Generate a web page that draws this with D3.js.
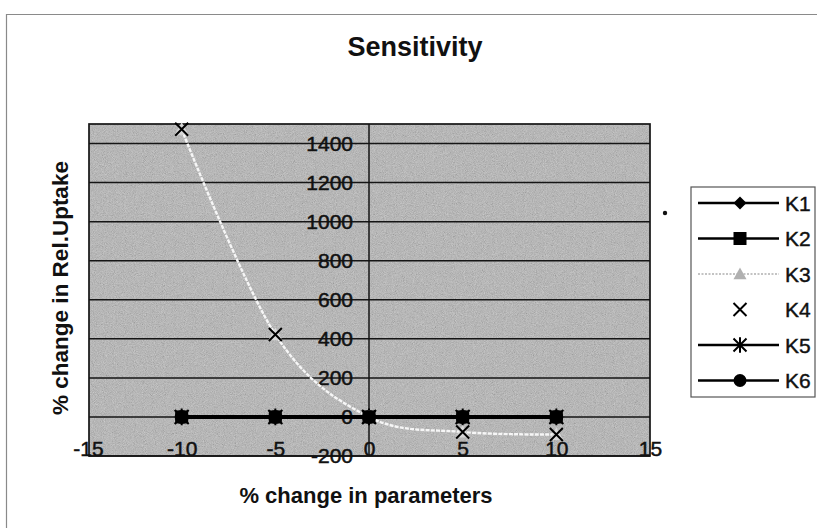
<!DOCTYPE html>
<html>
<head>
<meta charset="utf-8">
<script src="https://cdn.jsdelivr.net/npm/d3@7"></script>
<style>
  html, body { margin: 0; padding: 0; background: #fff; }
  svg { display: block; font-family: Arial, "Liberation Sans", sans-serif; }
</style>
</head>
<body>
<svg id="chart" width="817" height="528"></svg>
<script>
// Percent change applied to each parameter
const paramChange = [-10, -5, 0, 5, 10];

// Resulting % change in relative uptake, one array per parameter
const k1 = [0, 0, 0, 0, 0];
const k2 = [0, 0, 0, 0, 0];
const k3 = [1473, 422, 0, -77, -90];
const k4 = [1473, 422, 0, -77, -90];
const k5 = [0, 0, 0, 0, 0];
const k6 = [0, 0, 0, 0, 0];

const seriesNames = ["K1", "K2", "K3", "K4", "K5", "K6"];
const xTicks = [-15, -10, -5, 0, 5, 10, 15];
const yTicks = [-200, 0, 200, 400, 600, 800, 1000, 1200, 1400];

const svg = d3.select("#chart");
const FONT = "Arial, 'Liberation Sans', sans-serif";
const fmt = d => (d < 0 ? "-" : "") + Math.abs(d);

const plot = { left: 89, right: 650, top: 124, bottom: 456 };
const x = d3.scaleLinear().domain([-15, 15]).range([88, 650]);
const y = d3.scaleLinear().domain([-200, 1500]).range([plot.bottom, plot.top]);

// Grainy grey plot backdrop
const defs = svg.append("defs");
const grain = defs.append("filter").attr("id", "grain")
  .attr("x", 0).attr("y", 0).attr("width", "100%").attr("height", "100%");
grain.append("feTurbulence").attr("type", "fractalNoise")
  .attr("baseFrequency", 1.1).attr("numOctaves", 2).attr("seed", 7).attr("result", "n");
grain.append("feColorMatrix").attr("in", "n").attr("type", "matrix")
  .attr("values", "0.33 0.33 0.33 0 0  0.33 0.33 0.33 0 0  0.33 0.33 0.33 0 0  0 0 0 0 1");
defs.append("clipPath").attr("id", "plotClip").append("rect")
  .attr("x", plot.left).attr("y", plot.top)
  .attr("width", plot.right - plot.left).attr("height", plot.bottom - plot.top);

// Outer chart frame
svg.append("path").attr("d", "M6.5,528 V14.5 H817")
  .attr("fill", "none").attr("stroke", "#8a8a8a").attr("stroke-width", 1.2);

svg.append("rect")
  .attr("x", plot.left).attr("y", plot.top)
  .attr("width", plot.right - plot.left).attr("height", plot.bottom - plot.top)
  .attr("fill", "#b2b2b2");
svg.append("rect")
  .attr("x", plot.left).attr("y", plot.top)
  .attr("width", plot.right - plot.left).attr("height", plot.bottom - plot.top)
  .attr("filter", "url(#grain)").attr("opacity", 0.55);

// Horizontal gridlines
svg.append("g").selectAll("line").data(yTicks).join("line")
  .attr("x1", plot.left).attr("x2", plot.right)
  .attr("y1", d => y(d)).attr("y2", d => y(d))
  .attr("stroke", "#151515").attr("stroke-width", 1.5);

// Vertical value axis at x = 0
svg.append("line")
  .attr("x1", x(0)).attr("x2", x(0)).attr("y1", plot.top).attr("y2", plot.bottom)
  .attr("stroke", "#151515").attr("stroke-width", 1.5);

// Plot border
svg.append("rect")
  .attr("x", plot.left).attr("y", plot.top)
  .attr("width", plot.right - plot.left).attr("height", plot.bottom - plot.top)
  .attr("fill", "none").attr("stroke", "#151515").attr("stroke-width", 1.7);

// Y tick labels, placed beside the value axis
const yAxis = d3.axisLeft(y).tickValues(yTicks).tickSize(0).tickPadding(16).tickFormat(fmt);
const gy = svg.append("g").attr("transform", `translate(${x(0)},0)`).call(yAxis);
gy.select(".domain").remove();
gy.attr("font-size", null).attr("font-family", null);
gy.selectAll("text").style("font-size", "21px").style("font-family", FONT)
  .attr("fill", "#111").attr("stroke", "#111").attr("stroke-width", 0.5);

// X tick labels along the bottom edge
const xAxis = d3.axisBottom(x).tickValues(xTicks).tickSize(0).tickPadding(0).tickFormat(fmt);
const gx = svg.append("g").attr("transform", `translate(0,${plot.bottom - 15})`).call(xAxis);
gx.select(".domain").remove();
gx.attr("font-size", null).attr("font-family", null);
gx.selectAll("text").style("font-size", "21px").style("font-family", FONT)
  .attr("fill", "#111").attr("stroke", "#111").attr("stroke-width", 0.5);

// Series data
const allSeries = [
  { name: "K1", values: k1, line: true,  color: "#000", marker: "diamond" },
  { name: "K2", values: k2, line: true,  color: "#000", marker: "square" },
  { name: "K3", values: k3, line: true,  color: "#f6f6f6", legendColor: "#b0b0b0", marker: "triangle", dashed: true, smooth: true },
  { name: "K4", values: k4, line: false, color: "#000", marker: "cross" },
  { name: "K5", values: k5, line: true,  color: "#000", marker: "asterisk" },
  { name: "K6", values: k6, line: true,  color: "#000", marker: "circle" }
];

function drawMarker(g, type, cx, cy, color, s) {
  if (type === "diamond") {
    g.append("path").attr("d", `M${cx},${cy - s} L${cx + s},${cy} L${cx},${cy + s} L${cx - s},${cy} Z`).attr("fill", color);
  } else if (type === "square") {
    g.append("rect").attr("x", cx - s).attr("y", cy - s).attr("width", 2 * s).attr("height", 2 * s).attr("fill", color);
  } else if (type === "triangle") {
    g.append("path").attr("d", `M${cx},${cy - s} L${cx + s},${cy + s * 0.8} L${cx - s},${cy + s * 0.8} Z`).attr("fill", color);
  } else if (type === "cross") {
    g.append("path").attr("d", `M${cx - s},${cy - s} L${cx + s},${cy + s} M${cx - s},${cy + s} L${cx + s},${cy - s}`)
      .attr("stroke", color).attr("stroke-width", 2).attr("fill", "none");
  } else if (type === "asterisk") {
    g.append("path").attr("d", `M${cx - s},${cy - s} L${cx + s},${cy + s} M${cx - s},${cy + s} L${cx + s},${cy - s} M${cx},${cy - s * 1.2} L${cx},${cy + s * 1.2}`)
      .attr("stroke", color).attr("stroke-width", 2).attr("fill", "none");
  } else if (type === "circle") {
    g.append("circle").attr("cx", cx).attr("cy", cy).attr("r", s).attr("fill", color);
  }
}

const plotG = svg.append("g").attr("clip-path", "url(#plotClip)");
const drawOrder = ["K6", "K5", "K1", "K3", "K4", "K2"];
drawOrder.forEach(name => {
  const s = allSeries.find(d => d.name === name);
  const pts = paramChange.map((p, i) => [x(p), y(s.values[i])]);
  if (s.line) {
    const gen = d3.line().curve(s.smooth ? d3.curveCardinal.tension(0) : d3.curveLinear);
    plotG.append("path").attr("d", gen(pts)).attr("fill", "none")
      .attr("stroke", s.color).attr("stroke-width", s.dashed ? 2.4 : 3.5)
      .attr("stroke-dasharray", s.dashed ? "4,1.2" : null);
  }
  const mg = svg.append("g");
  pts.forEach(([cx, cy]) => {
    const size = s.marker === "square" ? 6.5 : s.marker === "cross" ? 6.5 : 7;
    drawMarker(mg, s.marker, cx, cy, s.marker === "triangle" ? "#d8d8d8" : s.color, size);
  });
});

// Title and axis titles
svg.append("text").attr("x", 415).attr("y", 56).attr("text-anchor", "middle")
  .attr("font-size", 27).attr("font-weight", "bold").attr("fill", "#111").text("Sensitivity");
svg.append("text").attr("transform", "translate(68,288) rotate(-90)").attr("text-anchor", "middle")
  .attr("font-size", 22.5).attr("font-weight", "bold").attr("fill", "#111").text("% change in Rel.Uptake");
svg.append("text").attr("x", 366).attr("y", 503).attr("text-anchor", "middle")
  .attr("font-size", 22).attr("font-weight", "bold").attr("fill", "#111").text("% change in parameters");

// Legend
svg.append("rect").attr("x", 691).attr("y", 187).attr("width", 124).attr("height", 210)
  .attr("fill", "#fff").attr("stroke", "#555").attr("stroke-width", 1.2);
const lg = svg.append("g");
allSeries.forEach((s, i) => {
  const cy = 203 + i * 35.5;
  const col = s.legendColor || s.color;
  if (s.line) {
    lg.append("line").attr("x1", 698).attr("x2", 779).attr("y1", cy).attr("y2", cy)
      .attr("stroke", col).attr("stroke-width", s.dashed ? 1.5 : 2.4)
      .attr("stroke-dasharray", s.dashed ? "2,1.5" : null);
  }
  drawMarker(lg, s.marker, 740, cy, col, 6.5);
  lg.append("text").attr("x", 785).attr("y", cy + 7.5).attr("font-size", 21).attr("fill", "#111")
    .attr("stroke", "#111").attr("stroke-width", 0.4).text(s.name);
});

// Small stray dot to the right of the plot
svg.append("circle").attr("cx", 665).attr("cy", 213).attr("r", 2.2).attr("fill", "#111");
</script>
</body>
</html>
